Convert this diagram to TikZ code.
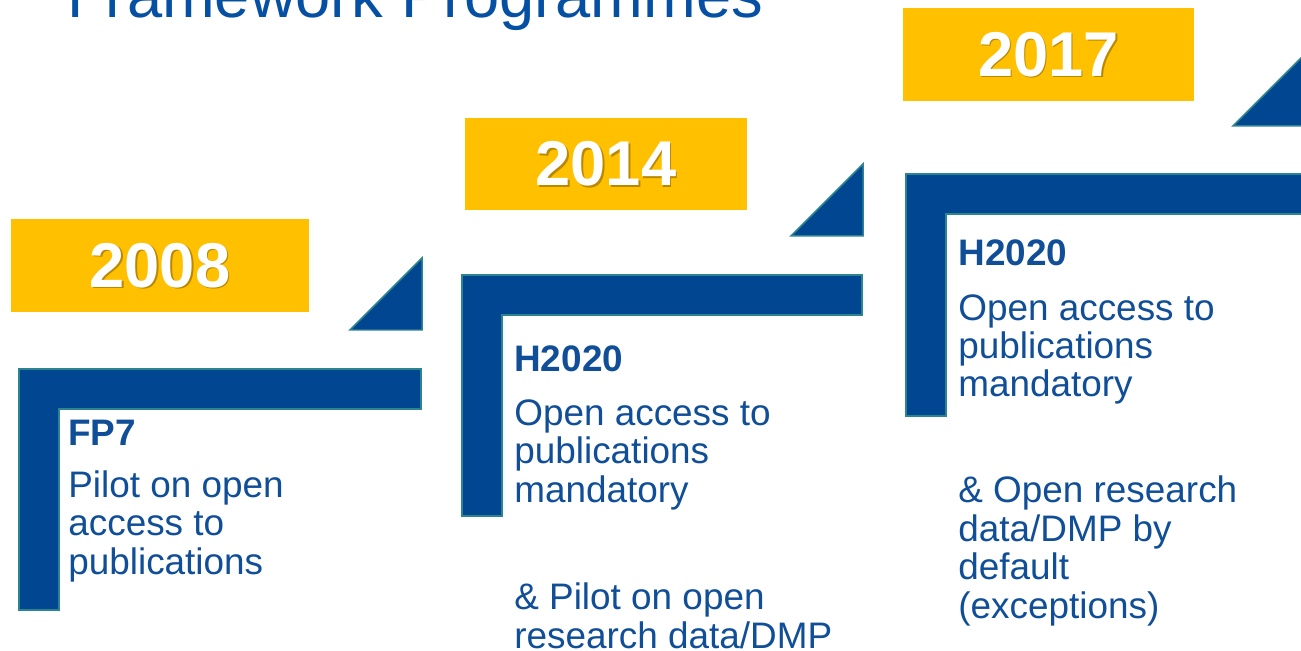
\documentclass[tikz,border=0pt]{standalone}
\usepackage{fontspec}
\setmainfont{Liberation Sans}
\definecolor{stepblue}{RGB}{0,70,145}
\definecolor{stepedge}{RGB}{45,132,145}
\definecolor{yeargold}{RGB}{255,192,0}
\definecolor{yearshade}{RGB}{140,100,0}
\definecolor{txtblue}{RGB}{16,78,152}
\definecolor{titleblue}{RGB}{6,80,164}
\begin{document}
\begin{tikzpicture}[x = 0.02cm, y = -0.02cm]
\tikzset{yearbox/.style={fill=yeargold, draw=none, rectangle, inner sep=0, minimum height = 1.86cm},
  yeartext/.style={white, inner sep=0, font=\fontsize{36pt}{40pt}\selectfont\bfseries},
  yearshadow/.style={yeartext, yearshade, opacity=0.6},
  steplabel/.style={anchor=base west, inner sep=0, txtblue, font=\fontsize{21pt}{21.9pt}\selectfont\bfseries},
  steptext/.style={anchor=base west, inner sep=0, align=left, txtblue, font=\fontsize{21pt}{21.9pt}\selectfont}}
\def\stepshape#1#2#3#4{ % #1,#2 top left, #3 right, #4 bottom
\draw[fill=stepblue, draw=stepedge, line width=0.85pt] (#1,#2) -- (#3,#2) -- (#3,#2+40) -- (#1+40,#2+40) -- (#1+40,#4) -- (#1,#4) -- cycle;}
\def\stepcorner#1#2#3{ % #1,#2 right angle corner, #3 size
\draw[fill=stepblue, draw=stepedge, line width=0.85pt] (#1,#2) -- ++(-#3,0) -- ++(#3,-#3) -- cycle;}
\useasboundingbox (0,0) rectangle (1301,651);

%% title (cut off at the top)
\node[anchor=base west, inner sep=0, titleblue, font=\fontsize{36pt}{40pt}\selectfont] (title) at (67,18) {Framework Programmes};

%% steps
\stepshape{19}{369}{421}{610}
\stepshape{462}{275}{862}{516}
\stepshape{906}{174}{1330}{416}
\stepcorner{422}{330}{72}
\stepcorner{863}{236}{72}
\stepcorner{1305}{126}{72}

%% years
\node[yearbox, minimum width = 5.96cm] (box08) at (160,265.5) {};
\node[yearshadow] at ([shift={(1.5,1.5)}]box08.center) {2008};
\node[yeartext] (year08) at (box08.center) {2008};
\node[yearbox, minimum width = 5.64cm] (box14) at (606,164) {};
\node[yearshadow] at ([shift={(1.5,1.5)}]box14.center) {2014};
\node[yeartext] (year14) at (box14.center) {2014};
\node[yearbox, minimum width = 5.82cm] (box17) at (1048.5,54.5) {};
\node[yearshadow] at ([shift={(1.5,1.5)}]box17.center) {2017};
\node[yeartext] (year17) at (box17.center) {2017};

%% programme texts (multi-line texts placed at the base of their last line)
\node[steplabel] (fp7) at (68,446) {FP7};
\node[steptext] (fp7txt) at (68,574) {Pilot on open\\access to\\publications};
\node[steplabel] (h14) at (514,372) {H2020};
\node[steptext] (h14txt) at (514,502) {Open access to\\publications\\mandatory};
\node[steptext] (h14more) at (514,648) {\& Pilot on open\\research data/DMP};
\node[steplabel] (h17) at (958,266) {H2020};
\node[steptext] (h17txt) at (958,397) {Open access to\\publications\\mandatory};
\node[steptext] (h17more) at (958,618) {\& Open research\\data/DMP by\\default\\(exceptions)};
\end{tikzpicture}
\end{document}
